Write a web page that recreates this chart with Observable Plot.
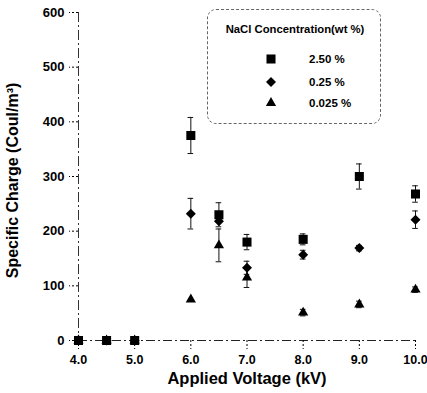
<!DOCTYPE html>
<html><head><meta charset="utf-8">
<script src="https://cdn.jsdelivr.net/npm/d3@7"></script>
<script src="https://cdn.jsdelivr.net/npm/@observablehq/plot@0.6"></script>
<style>
body{margin:0;background:#fff;font-family:"Liberation Sans",Arial,sans-serif;}
#wrap{position:relative;width:427px;height:393px;}
#legend{position:absolute;left:207px;top:9px;width:174px;height:115px;border:1px dashed #666;border-radius:9px;box-sizing:border-box;}
#legend svg{position:absolute;left:0;top:0;}
</style></head><body><div id="wrap"></div>
<script>
const voltages = [4.0, 4.5, 5.0, 6.0, 6.5, 7.0, 8.0, 9.0, 10.0];
const seriesNames = ["2.50 %", "0.25 %", "0.025 %"];
const seriesSymbols = ["square", "diamond2", "triangle"];
const charge250 = [0, 0, 0, 375, 230, 180, 185, 300, 268];
const err250    = [0, 0, 0, 33, 22, 14, 10, 23, 15];
const charge025 = [0, 0, 0, 232, 218, 133, 157, 169, 221];
const err025    = [0, 0, 0, 28, 0, 12, 8, 5, 16];
const charge0025 = [0, 0, 0, 75, 174, 115, 51, 66, 93];
const err0025    = [0, 0, 0, 0, 30, 18, 6, 6, 5];
const yTicks = [0, 100, 200, 300, 400, 500, 600];
const xTicks = [4, 5, 6, 7, 8, 9, 10];
const legendTitle = "NaCl Concentration(wt %)";
const xTitle = "Applied Voltage (kV)";
const yTitle = "Specific Charge (Coul/m³)";

const valueSets = [charge250, charge025, charge0025];
const errSets = [err250, err025, err0025];
const radii = [5.1, 4.5, 3.8];

const rows = [];
valueSets.forEach((vals, s) => vals.forEach((v, i) => rows.push({
  series: seriesNames[s], s, x: voltages[i], y: v, e: errSets[s][i]
})));
const errRows = rows.filter(d => d.e > 0);
const cap = 0.05;

const fontStyle = {fontFamily: "'Liberation Sans', Arial, sans-serif", fontWeight: "bold"};

const marks = [
  Plot.ruleY([0], {strokeDasharray: "9,3,2,3", strokeWidth: 1.1, stroke: "#222"}),
  Plot.ruleX([4], {strokeDasharray: "10,3,2,3", strokeWidth: 1, stroke: "#333"}),
  Plot.axisY(yTicks, {tickSize: 9, tickPadding: 5, label: null, fontSize: 13, strokeDasharray: "2,2"}),
  Plot.axisX(xTicks, {tickSize: 9, tickPadding: 6, label: null, fontSize: 12.5, tickFormat: d3.format(".1f"), strokeDasharray: "2,2"}),
  Plot.ruleX(errRows, {x: "x", y1: d => d.y - d.e, y2: d => d.y + d.e, stroke: "#111", strokeWidth: 1}),
  Plot.ruleY(errRows, {y: d => d.y + d.e, x1: d => d.x - cap, x2: d => d.x + cap, stroke: "#111", strokeWidth: 1}),
  Plot.ruleY(errRows, {y: d => d.y - d.e, x1: d => d.x - cap, x2: d => d.x + cap, stroke: "#111", strokeWidth: 1})
];
[2, 1, 0].forEach(s => {
  marks.push(Plot.dot(rows.filter(d => d.s === s), {x: "x", y: "y", symbol: () => seriesSymbols[s], r: radii[s], fill: "#000", stroke: "none"}));
});
marks.push(Plot.text([xTitle], {text: d => d, frameAnchor: "bottom", dy: 43, fontSize: 16.5, fontWeight: "bold"}));
marks.push(Plot.text([yTitle], {text: d => d, frameAnchor: "left", textAnchor: "middle", rotate: -90, dx: -66, dy: 4, fontSize: 16, fontWeight: "bold"}));

const chart = Plot.plot({
  width: 427, height: 393,
  marginLeft: 78, marginRight: 12, marginTop: 12, marginBottom: 53,
  x: {domain: [4, 10], axis: null},
  y: {domain: [0, 600], axis: null},
  symbol: {type: "identity"},
  style: {...fontStyle, background: "#fff", color: "#000", overflow: "visible"},
  marks
});
const wrap = document.getElementById("wrap");
wrap.appendChild(chart);

// legend overlay
const leg = document.createElement("div");
leg.id = "legend";
wrap.appendChild(leg);
const svg = d3.select(leg).append("svg").attr("width", 174).attr("height", 115)
  .style("font-family", "'Liberation Sans', Arial, sans-serif").style("font-weight", "bold");
svg.append("text").attr("x", 87).attr("y", 23).attr("text-anchor", "middle").attr("font-size", 11.3).text(legendTitle);
const d3syms = {square: d3.symbolSquare, diamond2: d3.symbolDiamond2, triangle: d3.symbolTriangle};
seriesNames.forEach((name, i) => {
  const yy = [49, 72, 93][i];
  svg.append("path").attr("transform", `translate(63,${yy})`)
    .attr("d", d3.symbol(d3syms[seriesSymbols[i]], Math.PI * radii[i] * radii[i])()).attr("fill", "#000");
  svg.append("text").attr("x", 101).attr("y", yy + 4).attr("font-size", 11.5).text(name);
});
</script></body></html>
